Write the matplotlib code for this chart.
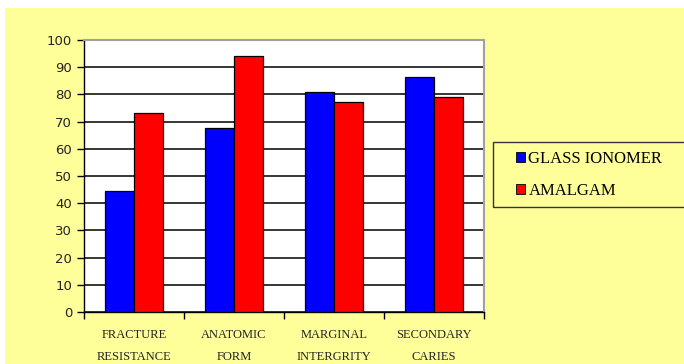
import numpy as np
import matplotlib
matplotlib.use("Agg")
import matplotlib.pyplot as plt
from matplotlib.patches import Rectangle, Patch

categories = ["FRACTURE\nRESISTANCE", "ANATOMIC\nFORM", "MARGINAL\nINTERGRITY", "SECONDARY\nCARIES"]
glass_ionomer = [44.5, 67.5, 80.8, 86.5]
amalgam = [73, 94.3, 77.2, 79]
series_names = ["GLASS IONOMER", "AMALGAM"]
yticks = [0, 10, 20, 30, 40, 50, 60, 70, 80, 90, 100]

W, H = 684, 364
fig = plt.figure(figsize=(W / 100, H / 100), dpi=100, facecolor="white")

# yellow chart area
fig.patches.append(Rectangle((5 / W, 0), 1 - 5 / W, (H - 8) / H, transform=fig.transFigure,
                             facecolor="#FFFF99", edgecolor="none", zorder=-10))

ax = fig.add_axes([84 / W, (H - 312) / H, 400 / W, 272 / H])
ax.set_zorder(2)
ax.set_facecolor("white")

x = np.arange(len(categories))
w = 0.29
ax.bar(x - w / 2, glass_ionomer, w, color="#0000FF", edgecolor="black", linewidth=0.9, zorder=3)
ax.bar(x + w / 2, amalgam, w, color="#FF0000", edgecolor="black", linewidth=0.9, zorder=3)

ax.set_xlim(-0.5, len(categories) - 0.5)
ax.set_ylim(0, 100)
ax.set_yticks(yticks)
ax.set_yticklabels([str(v) for v in yticks], fontsize=9.5, color="#222222", family="DejaVu Sans")
ax.yaxis.grid(True, color="black", linewidth=1.1, zorder=1)
ax.set_axisbelow(True)

ax.set_xticks(np.arange(len(categories) + 1) - 0.5, minor=False)
ax.set_xticklabels([])
ax.set_xticks(x, minor=True)
ax.set_xticklabels(categories, minor=True, fontsize=9, family="Liberation Serif",
                   linespacing=2.2, color="#222222")
ax.tick_params(axis="x", which="minor", length=0, pad=12)
ax.tick_params(axis="x", which="major", length=5, direction="out", width=1)
ax.tick_params(axis="y", length=5, direction="out", width=1)

for s in ["top", "right"]:
    ax.spines[s].set_color("#A0A0A0")
    ax.spines[s].set_linewidth(1.5)
for s in ["left", "bottom"]:
    ax.spines[s].set_color("black")
    ax.spines[s].set_linewidth(1)

# legend box running off the right edge
fig.patches.append(Rectangle((493 / W, (H - 207) / H), (W - 493 + 5) / W, 65 / H,
                             transform=fig.transFigure, facecolor="none",
                             edgecolor="#333333", linewidth=1, zorder=5, clip_on=False))
handles = [Patch(facecolor="#0000FF", edgecolor="black", linewidth=0.6),
           Patch(facecolor="#FF0000", edgecolor="black", linewidth=0.6)]
fig.legend(handles, series_names, loc="center left", bbox_to_anchor=(501 / W, (H - 175) / H),
           frameon=False, prop={"family": "Liberation Serif", "size": 12},
           handlelength=0.55, handleheight=0.55, handletextpad=0.2, labelspacing=1.0)

fig.savefig("out.png", dpi=100)
